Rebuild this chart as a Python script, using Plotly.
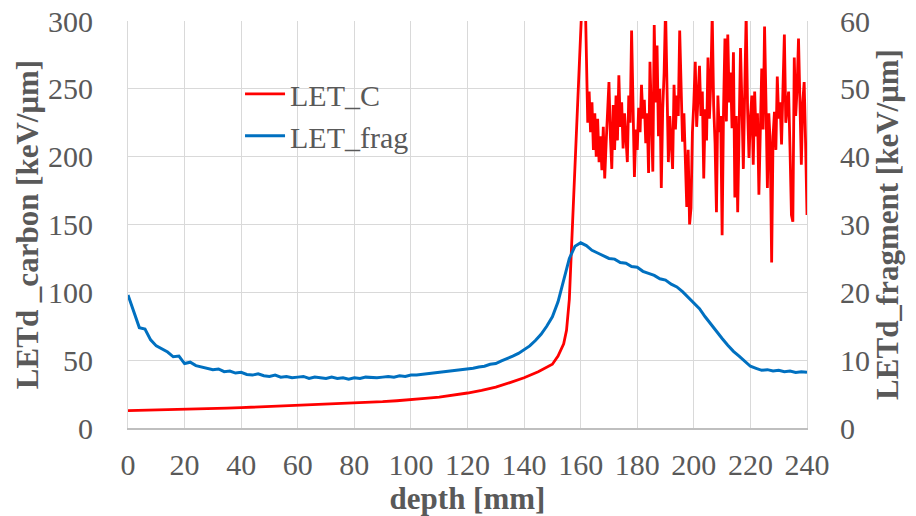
import numpy as np
import plotly.graph_objects as go

# ---- data ----
# LET_C (carbon), smooth rising part, left axis [keV/um]
c_depth = [0, 5, 10, 15, 20, 25, 30, 35, 40, 45, 50, 55, 60, 65, 70, 75, 80, 85, 90, 95,
           100, 105, 110, 115, 120, 125, 130, 135, 140, 145, 150, 152, 154, 155, 156,
           156.5, 157, 158, 159, 160, 160.5, 161, 161.5, 162]
c_val = [12.8, 13.0, 13.2, 13.4, 13.7, 14.1, 14.4, 14.7, 15.0, 15.4, 15.8, 16.1, 16.5, 16.9,
         17.3, 17.8, 18.3, 18.8, 19.4, 20.1, 20.8, 21.8, 22.8, 24.1, 25.8, 27.8, 30.2, 33.5,
         37.0, 41.5, 47.0, 53.0, 62.0, 72.0, 95.0, 120.0, 145.0, 190.0, 240.0, 290.0, 320.0,
         340.0, 330.0, 280.0]
# LET_C noisy tail, 0.5 mm steps from 162.5 to 240 mm
c_tail_start = 162.5
c_tail_step = 0.5
c_tail = [225, 248, 218, 240, 205, 232, 200, 228, 196, 215, 190, 222, 184, 210, 235, 255,
          215, 191, 238, 205, 245, 212, 260, 222, 240, 206, 232, 215, 196, 245, 225, 293,
          230, 185, 220, 205, 236, 218, 253, 228, 242, 210, 232, 188, 270, 225, 189, 297,
          240, 282, 215, 250, 177, 235, 262, 310, 240, 196, 230, 210, 191, 253, 220, 245,
          230, 293, 240, 211, 232, 195, 163, 205, 150, 162, 218, 240, 270, 222, 250, 267,
          230, 248, 184, 235, 212, 273, 228, 255, 305, 238, 210, 159, 245, 218, 230, 142,
          235, 287, 226, 290, 240, 262, 221, 277, 170, 230, 159, 220, 280, 238, 191, 250,
          305, 235, 199, 228, 245, 194, 248, 215, 232, 172, 225, 265, 220, 296, 240, 177,
          232, 210, 122, 215, 233, 205, 259, 228, 240, 209, 250, 290, 225, 238, 248, 205,
          157, 152, 273, 230, 250, 287, 230, 194, 240, 255, 210, 157]

# LET_frag, right axis [keV/um], 2 mm steps 0..240
f_depth_step = 2
f_val = [19.6, 17.2, 14.8, 14.6, 13.0, 12.1, 11.6, 11.2, 10.5, 10.6, 9.5, 9.7, 9.2, 9.0,
         8.8, 8.6, 8.7, 8.3, 8.4, 8.1, 8.2, 7.9, 7.8, 8.0, 7.7, 7.6, 7.8, 7.5, 7.6, 7.4,
         7.5, 7.6, 7.3, 7.5, 7.4, 7.3, 7.5, 7.3, 7.4, 7.2, 7.4, 7.3, 7.5, 7.4, 7.4, 7.5,
         7.6, 7.5, 7.7, 7.6, 7.8, 7.8, 7.9, 8.0, 8.0, 8.2, 8.2, 8.4, 8.4, 8.6, 8.7, 8.8,
         9.0, 9.1, 9.4, 9.5, 9.9, 10.2, 10.6, 11.0, 11.5, 12.1, 12.9, 13.8, 15.0, 16.4,
         18.6, 22.0, 25.0, 26.8, 27.3, 26.9, 26.2, 25.8, 25.4, 25.0, 24.9, 24.4, 24.3,
         23.8, 23.7, 23.1, 22.8, 22.5, 22.0, 21.8, 21.2, 20.8, 20.1, 19.3, 18.5, 17.6,
         16.4, 15.3, 14.2, 13.2, 12.2, 11.3, 10.6, 9.8, 9.1, 8.8, 8.5, 8.6, 8.4, 8.5, 8.3,
         8.4, 8.2, 8.3, 8.2]

x_ticks = [0, 20, 40, 60, 80, 100, 120, 140, 160, 180, 200, 220, 240]
y1_ticks = [0, 50, 100, 150, 200, 250, 300]
y2_ticks = [0, 10, 20, 30, 40, 50, 60]

# ---- build ----
tail_depth = [c_tail_start + c_tail_step * i for i in range(len(c_tail))]
red_x = c_depth + tail_depth
red_y = c_val + c_tail
blue_x = [f_depth_step * i for i in range(len(f_val))]

FONT = "Liberation Serif"
GRAY = "#595959"
GRID = "#d9d9d9"

fig = go.Figure()
fig.add_trace(go.Scatter(x=red_x, y=red_y, name="LET_C", mode="lines",
                         line=dict(color="#ff0000", width=2.8), yaxis="y"))
fig.add_trace(go.Scatter(x=blue_x, y=f_val, name="LET_frag", mode="lines",
                         line=dict(color="#0070c0", width=3), yaxis="y2"))

fig.update_layout(
    width=916, height=516,
    margin=dict(l=128, r=109, t=21, b=88, autoexpand=False),
    paper_bgcolor="white", plot_bgcolor="white",
    font=dict(family=FONT, size=30, color=GRAY),
    showlegend=True,
    legend=dict(x=0.165, y=0.885, xanchor="left", yanchor="top",
                bgcolor="rgba(0,0,0,0)", font=dict(family=FONT, size=30, color=GRAY),
                tracegroupgap=0, itemwidth=40),
    xaxis=dict(range=[0, 240], tickvals=x_ticks, ticktext=[str(v) for v in x_ticks],
               showgrid=True, gridcolor=GRID, gridwidth=1.3, automargin=False,
               showline=True, linecolor="#bfbfbf", linewidth=1.5,
               zeroline=False, ticks="", ticklabelstandoff=9,
               tickfont=dict(family=FONT, size=30, color=GRAY),
               title=dict(text="<b>depth [mm]</b>", standoff=0,
                          font=dict(family=FONT, size=31, color=GRAY))),
    yaxis=dict(range=[0, 300], tickvals=y1_ticks, showgrid=True, gridcolor=GRID,
               gridwidth=1.3, zeroline=False, showline=True, linecolor=GRID,
               ticks="", ticklabelstandoff=28, automargin=False,
               tickfont=dict(family=FONT, size=30, color=GRAY),
               title=dict(text="<b>LETd _carbon [keV/μm]</b>", standoff=0,
                          font=dict(family=FONT, size=31, color=GRAY))),
    yaxis2=dict(range=[0, 60], tickvals=y2_ticks, overlaying="y", side="right",
                showgrid=False, zeroline=False, showline=True, linecolor=GRID,
                ticks="", ticklabelstandoff=26, automargin=False,
                tickfont=dict(family=FONT, size=30, color=GRAY),
                title=dict(text="<b>LETd_fragment [keV/μm]</b>", standoff=3,
                           font=dict(family=FONT, size=31, color=GRAY))),
)

fig.write_html("out.html")
